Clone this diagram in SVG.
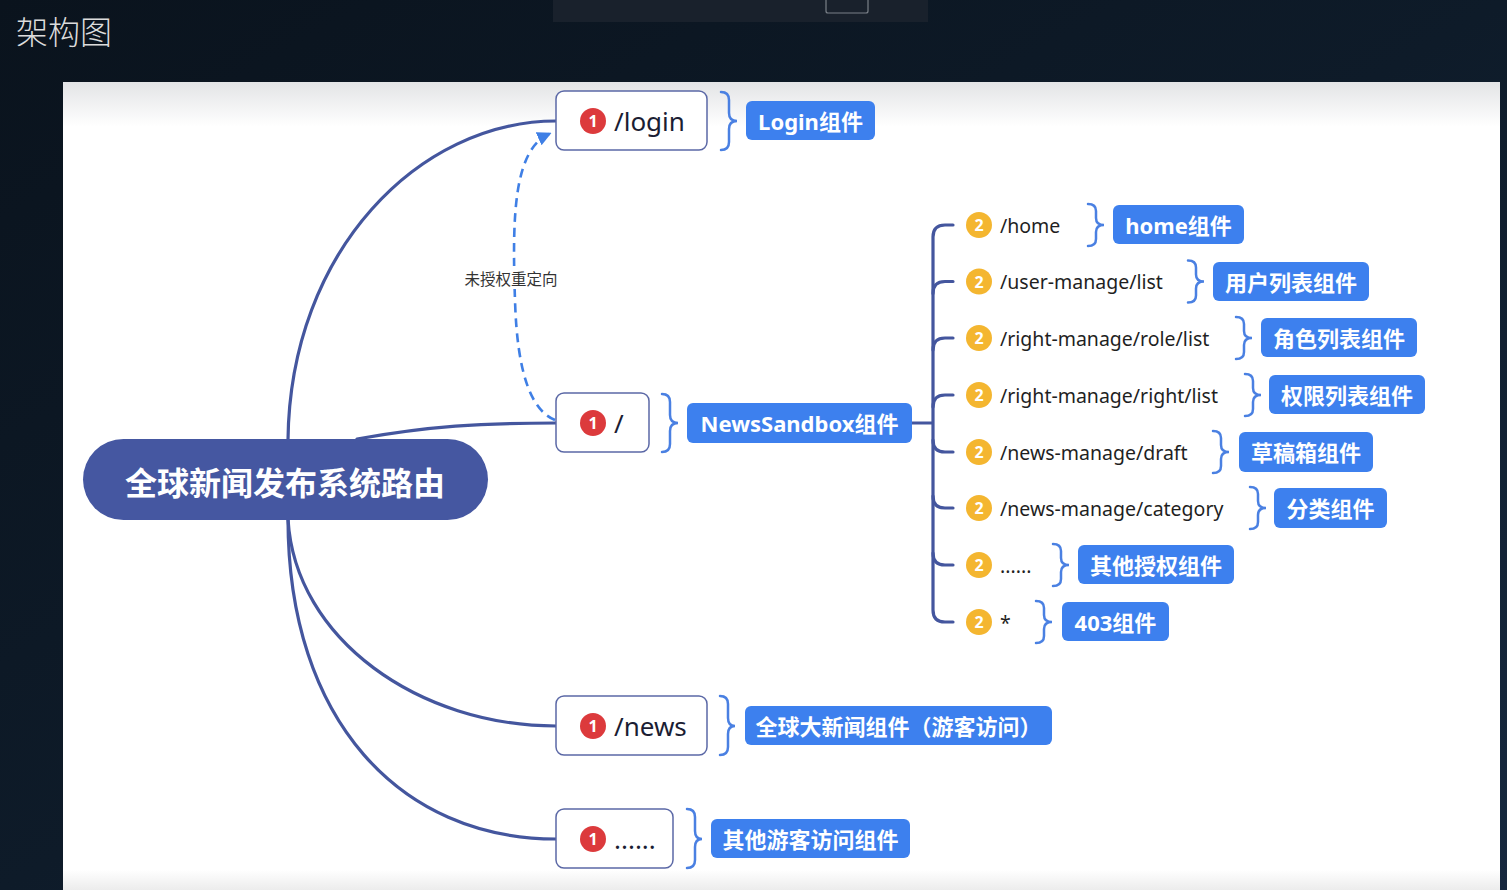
<svg xmlns="http://www.w3.org/2000/svg" width="1507" height="890" viewBox="0 0 1507 890">
<defs>
<linearGradient id="bg" x1="0" y1="0" x2="1" y2="1">
<stop offset="0" stop-color="#0a131d"/>
<stop offset="0.5" stop-color="#0e1b29"/>
<stop offset="1" stop-color="#16283e"/>
</linearGradient>
<linearGradient id="cv" x1="0" y1="0" x2="0" y2="1">
<stop offset="0" stop-color="#e3e4e6"/>
<stop offset="0.055" stop-color="#ffffff"/>
<stop offset="0.975" stop-color="#ffffff"/>
<stop offset="1" stop-color="#ececec"/>
</linearGradient>
<marker id="ah" viewBox="0 0 10 10" refX="8" refY="5" markerWidth="5.5" markerHeight="5.5" orient="auto" markerUnits="strokeWidth">
<path d="M0,0 L10,5 L0,10 Z" fill="#3f7fe5"/>
</marker>
<style>
.conn{fill:none;stroke:#44569e;stroke-width:3.2;stroke-linecap:round}
.dash{fill:none;stroke:#3f7fe5;stroke-width:2.6;stroke-dasharray:9 6}
.n1{fill:#fff;stroke:#5b68a6;stroke-width:1.5}
.b1{fill:#dc3a3c}
.b2{fill:#f4b630}
.bn{font-family:"Noto Sans","Liberation Sans",sans-serif;font-weight:bold;font-size:16px;fill:#fff;text-anchor:middle;dominant-baseline:central}
.t1{font-family:"Noto Sans","Liberation Sans",sans-serif;font-size:26px;fill:#1b1d33;dominant-baseline:central}
.t2{font-family:"Noto Sans","Liberation Sans",sans-serif;font-size:19.5px;fill:#1f1f1f;dominant-baseline:central}
.br{fill:none;stroke:#4a80e2;stroke-width:2.5;stroke-linecap:round}
.box{fill:#3d80ee}
.bt{font-family:"Noto Sans","Noto Sans CJK SC",sans-serif;font-weight:bold;font-size:22px;fill:#fff;text-anchor:middle;dominant-baseline:central}
</style>
</defs>
<rect x="0" y="0" width="1507" height="890" fill="url(#bg)"/>
<rect x="553" y="0" width="375" height="22" fill="#19212c"/>
<rect x="826" y="-3" width="42" height="16" rx="2" fill="none" stroke="#7a8088" stroke-width="1.2"/>
<text x="16" y="44" font-family="Noto Sans CJK SC,sans-serif" font-size="32" font-weight="300" fill="#dcdcdc">架构图</text>
<rect x="63" y="82" width="1437" height="808" fill="url(#cv)"/>

<g id="connectors">
<path class="conn" d="M288,440 C290,250 420,121 556,121"/>
<path class="conn" d="M357,439 C430,426 480,423 556,423"/>
<path class="conn" d="M288,519 C295,640 420,726 556,726"/>
<path class="conn" d="M288,519 C288,720 400,839 556,839"/>
<path class="conn" d="M912,423 H932"/>
<path class="conn" d="M953,225 H945 Q933,225 933,237 V610 Q933,622 945,622 H953"/>
<path class="conn" d="M933,293.5 Q933,281.5 945,281.5 H953"/>
<path class="conn" d="M933,350 Q933,338 945,338 H953"/>
<path class="conn" d="M933,407 Q933,395 945,395 H953"/>
<path class="conn" d="M933,440 Q933,452 945,452 H953"/>
<path class="conn" d="M933,496 Q933,508 945,508 H953"/>
<path class="conn" d="M933,553 Q933,565 945,565 H953"/>
<path class="dash" d="M555,420 C530,410 517,370 515,300 C512,215 514,150 549,134" marker-end="url(#ah)"/>
<rect x="461" y="266" width="100" height="23" fill="#fff"/>
<text x="511" y="277.5" font-family="Noto Sans CJK SC,sans-serif" font-size="15.5" fill="#333" text-anchor="middle" dominant-baseline="central">未授权重定向</text>
</g>

<g id="root">
<rect x="83" y="439" width="405" height="81" rx="40.5" fill="#4557a1"/>
<text x="285" y="481" font-family="Noto Sans CJK SC,sans-serif" font-size="32" font-weight="bold" fill="#fff" text-anchor="middle" dominant-baseline="central">全球新闻发布系统路由</text>
</g>

<g id="login">
<rect class="n1" x="556" y="91" width="151" height="59" rx="8"/>
<circle class="b1" cx="593" cy="121" r="13"/><text class="bn" x="593" y="121">1</text>
<text class="t1" x="614" y="121">/login</text>
<path class="br" d="M721,92 Q729,92 729,100 L729,113 Q729,121 737,121 Q729,121 729,129 L729,142 Q729,150 721,150"/>
<rect class="box" x="746" y="101" width="129" height="39" rx="6"/>
<text class="bt" x="810.5" y="120.5">Login组件</text>
</g>

<g id="sandbox">
<rect class="n1" x="556" y="393" width="93" height="59" rx="8"/>
<circle class="b1" cx="593" cy="423" r="13"/><text class="bn" x="593" y="423">1</text>
<text class="t1" x="614" y="423">/</text>
<path class="br" d="M662,394 Q670,394 670,402 L670,415 Q670,423 678,423 Q670,423 670,431 L670,444 Q670,452 662,452"/>
<rect class="box" x="687" y="403" width="225" height="40" rx="6"/>
<text class="bt" x="799.5" y="423">NewsSandbox组件</text>
</g>

<g id="news">
<rect class="n1" x="556" y="696" width="151" height="59" rx="8"/>
<circle class="b1" cx="593" cy="726" r="13"/><text class="bn" x="593" y="726">1</text>
<text class="t1" x="614" y="726">/news</text>
<path class="br" d="M720,696 Q728,696 728,704 L728,718 Q728,726 735,726 Q728,726 728,734 L728,747 Q728,755 720,755"/>
<rect class="box" x="745" y="706" width="307" height="39" rx="6"/>
<text class="bt" x="898.5" y="725.5">全球大新闻组件（游客访问）</text>
</g>

<g id="other-guest">
<rect class="n1" x="556" y="809" width="117" height="59" rx="8"/>
<circle class="b1" cx="593" cy="839" r="13"/><text class="bn" x="593" y="839">1</text>
<text class="t1" x="614" y="839">......</text>
<path class="br" d="M687,809 Q695,809 695,817 L695,831 Q695,839 702,839 Q695,839 695,847 L695,860 Q695,868 687,868"/>
<rect class="box" x="711" y="819" width="199" height="39" rx="6"/>
<text class="bt" x="810.5" y="838.5">其他游客访问组件</text>
</g>

<g id="home">
<circle class="b2" cx="979" cy="225" r="13"/><text class="bn" x="979" y="225">2</text>
<text class="t2" x="1000" y="225">/home</text>
<path class="br" d="M1088,204 Q1096,204 1096,211 L1096,218 Q1096,225 1104,225 Q1096,225 1096,232 L1096,239 Q1096,246 1088,246"/>
<rect class="box" x="1113" y="205" width="131" height="39" rx="6"/>
<text class="bt" x="1178.5" y="224.5">home组件</text>
</g>

<g id="user-list">
<circle class="b2" cx="979" cy="281.5" r="13"/><text class="bn" x="979" y="281.5">2</text>
<text class="t2" x="1000" y="281.5">/user-manage/list</text>
<path class="br" d="M1188,260.5 Q1196,260.5 1196,267.5 L1196,274.5 Q1196,281.5 1204,281.5 Q1196,281.5 1196,288.5 L1196,295.5 Q1196,302.5 1188,302.5"/>
<rect class="box" x="1213" y="262" width="156" height="39" rx="6"/>
<text class="bt" x="1291" y="281.5">用户列表组件</text>
</g>

<g id="role-list">
<circle class="b2" cx="979" cy="338" r="13"/><text class="bn" x="979" y="338">2</text>
<text class="t2" x="1000" y="338">/right-manage/role/list</text>
<path class="br" d="M1236,317 Q1244,317 1244,324 L1244,331 Q1244,338 1252,338 Q1244,338 1244,345 L1244,352 Q1244,359 1236,359"/>
<rect class="box" x="1261" y="318" width="156" height="39" rx="6"/>
<text class="bt" x="1339" y="337.5">角色列表组件</text>
</g>

<g id="right-list">
<circle class="b2" cx="979" cy="395" r="13"/><text class="bn" x="979" y="395">2</text>
<text class="t2" x="1000" y="395">/right-manage/right/list</text>
<path class="br" d="M1245,374 Q1253,374 1253,381 L1253,388 Q1253,395 1261,395 Q1253,395 1253,402 L1253,409 Q1253,416 1245,416"/>
<rect class="box" x="1269" y="375" width="156" height="39" rx="6"/>
<text class="bt" x="1347" y="394.5">权限列表组件</text>
</g>

<g id="draft">
<circle class="b2" cx="979" cy="452" r="13"/><text class="bn" x="979" y="452">2</text>
<text class="t2" x="1000" y="452">/news-manage/draft</text>
<path class="br" d="M1213,431 Q1221,431 1221,438 L1221,445 Q1221,452 1229,452 Q1221,452 1221,459 L1221,466 Q1221,473 1213,473"/>
<rect class="box" x="1239" y="432" width="134" height="40" rx="6"/>
<text class="bt" x="1306" y="452">草稿箱组件</text>
</g>

<g id="category">
<circle class="b2" cx="979" cy="508" r="13"/><text class="bn" x="979" y="508">2</text>
<text class="t2" x="1000" y="508">/news-manage/category</text>
<path class="br" d="M1250,487 Q1258,487 1258,494 L1258,501 Q1258,508 1266,508 Q1258,508 1258,515 L1258,522 Q1258,529 1250,529"/>
<rect class="box" x="1274" y="488" width="113" height="40" rx="6"/>
<text class="bt" x="1330.5" y="508">分类组件</text>
</g>

<g id="other-auth">
<circle class="b2" cx="979" cy="565" r="13"/><text class="bn" x="979" y="565">2</text>
<text class="t2" x="1000" y="565">......</text>
<path class="br" d="M1053,544 Q1061,544 1061,551 L1061,558 Q1061,565 1069,565 Q1061,565 1061,572 L1061,579 Q1061,586 1053,586"/>
<rect class="box" x="1078" y="545" width="156" height="39" rx="6"/>
<text class="bt" x="1156" y="564.5">其他授权组件</text>
</g>

<g id="forbidden">
<circle class="b2" cx="979" cy="622" r="13"/><text class="bn" x="979" y="622">2</text>
<text class="t2" x="1000" y="622">*</text>
<path class="br" d="M1036,601 Q1044,601 1044,608 L1044,615 Q1044,622 1052,622 Q1044,622 1044,629 L1044,636 Q1044,643 1036,643"/>
<rect class="box" x="1062" y="602" width="107" height="39" rx="6"/>
<text class="bt" x="1115.5" y="621.5">403组件</text>
</g>
</svg>
